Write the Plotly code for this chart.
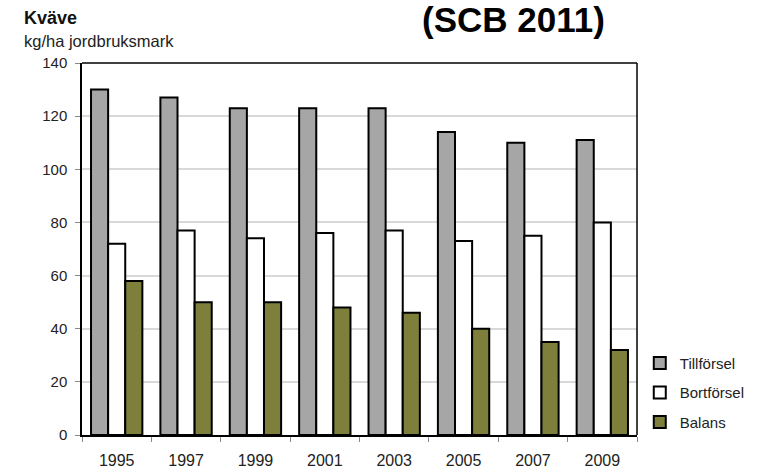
import plotly.graph_objects as go

years = ["1995", "1997", "1999", "2001", "2003", "2005", "2007", "2009"]
tillforsel = [130, 127, 123, 123, 123, 114, 110, 111]
bortforsel = [72, 77, 74, 76, 77, 73, 75, 80]
balans = [58, 50, 50, 48, 46, 40, 35, 32]
y_ticks = [0, 20, 40, 60, 80, 100, 120, 140]

font_family = "Liberation Sans, Arial, sans-serif"

fig = go.Figure()
fig.add_trace(go.Bar(x=years, y=tillforsel, name="Tillförsel", legendgroup="a",
                     marker=dict(color="#a6a6a6", line=dict(color="black", width=2))))
fig.add_trace(go.Bar(x=years, y=bortforsel, name="Bortförsel", legendgroup="b",
                     marker=dict(color="white", line=dict(color="black", width=2))))
fig.add_trace(go.Bar(x=years, y=balans, name="Balans", legendgroup="c",
                     marker=dict(color="#7f7f3c", line=dict(color="black", width=2))))

fig.update_layout(
    width=765, height=468,
    margin=dict(l=82, r=128, t=63, b=33),
    paper_bgcolor="white", plot_bgcolor="white",
    font=dict(family=font_family, size=13, color="black"),
    barmode="group", bargap=0.26, bargroupgap=0,
    showlegend=True,
    legend=dict(x=1.005, y=0.237, xanchor="left", yanchor="top",
                font=dict(size=15, color="#222"), itemsizing="constant",
                tracegroupgap=7, bgcolor="rgba(0,0,0,0)"),
    xaxis=dict(type="category", showline=True, linecolor="black", linewidth=1.5,
               ticks="outside", tickson="boundaries", ticklen=5, tickcolor="#888",
               ticklabelstandoff=10, automargin=False,
               mirror=False, showgrid=False, tickfont=dict(size=16, color="#222")),
    yaxis=dict(range=[0, 140], tickvals=y_ticks, showline=True, linecolor="black",
               linewidth=1.5, ticks="outside", ticklen=5, tickcolor="#888",
               ticklabelstandoff=5, automargin=False,
               showgrid=True, gridcolor="#d9d9d9", gridwidth=1.5, zeroline=False,
               tickfont=dict(size=15, color="#222")),
    shapes=[
        dict(type="line", xref="paper", yref="paper", x0=0, x1=1, y0=1, y1=1,
             line=dict(color="black", width=1.5)),
        dict(type="line", xref="paper", yref="paper", x0=1, x1=1, y0=0, y1=1,
             line=dict(color="black", width=1.5)),
    ],
    annotations=[
        dict(text="<b>Kväve</b>", xref="paper", yref="paper", x=-0.108, y=1.12,
             xanchor="left", yanchor="middle", showarrow=False, font=dict(size=18, color="#111")),
        dict(text="kg/ha jordbruksmark", xref="paper", yref="paper", x=-0.108, y=1.059,
             xanchor="left", yanchor="middle", showarrow=False, font=dict(size=16.5, color="#222")),
        dict(text="<b>(SCB 2011)</b>", xref="paper", yref="paper", x=0.777, y=1.118,
             xanchor="center", yanchor="middle", showarrow=False, font=dict(size=35, color="black")),
    ],
)

fig.write_html("out.html", config={"displayModeBar": False},
               post_script="document.body.style.margin='0px';")
